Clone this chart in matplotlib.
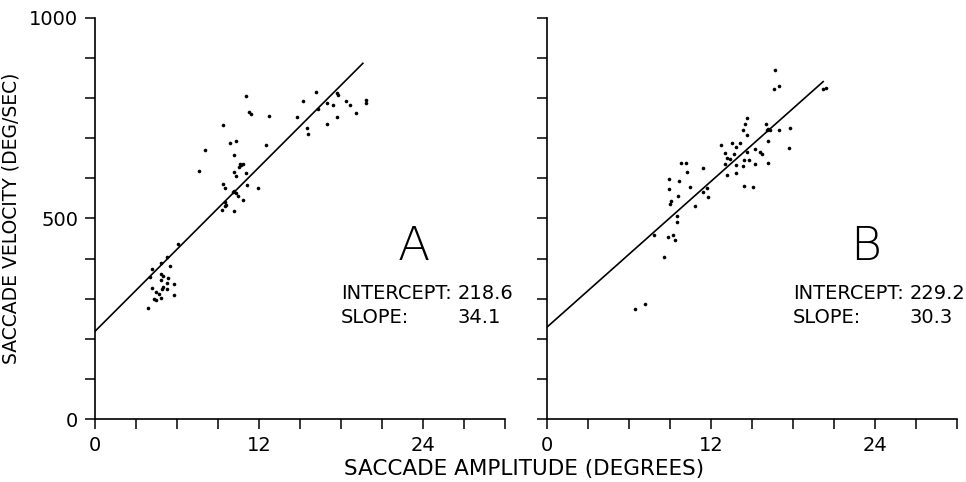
import matplotlib
matplotlib.use("Agg")
from matplotlib import pyplot as plt

plt.rcParams['font.family'] = ['DejaVu Sans']

# panel A data (amplitude in deg, velocity in deg/sec)
amp_a = [3.9, 4.2, 4.06, 4.8, 5.26, 6.08, 5.47, 4.8, 5.0, 5.35, 4.8, 5.28, 5.77, 4.18,
         4.94, 5.28, 4.5, 4.7, 4.3, 4.5, 4.8, 5.77, 4.96,
         11.07, 11.3, 11.4, 12.7, 9.37, 8.03, 7.6, 9.85, 10.34, 10.2, 10.6, 10.8, 10.55,
         10.65, 10.15, 11.07, 10.3, 12.5, 9.4, 9.5, 11.1, 11.9, 10.1, 10.2, 10.3, 10.5,
         10.8, 9.5, 9.5, 9.6, 9.3, 10.15,
         15.2, 16.2, 14.8, 15.5, 15.6, 16.3, 17.0, 17.4, 16.95, 17.7, 17.7, 17.8, 18.4,
         18.65, 19.1, 19.8, 19.8]
vel_a = [276, 375, 353, 388, 405, 436, 381, 362, 356, 351, 347, 338, 336, 326,
         324, 324, 316, 312, 300, 297, 302, 308, 330,
         805, 766, 760, 756, 732, 671, 619, 687, 692, 658, 637, 637, 628,
         633, 617, 614, 605, 683, 587, 575, 583, 575, 567, 569, 563, 556,
         545, 540, 531, 533, 520, 519,
         793, 815, 752, 725, 710, 772, 789, 783, 736, 812, 753, 808, 793,
         782, 762, 796, 787]

# panel B data
amp_b = [6.47, 7.2, 8.54, 7.8, 8.85, 9.2, 9.34, 9.5, 9.54, 10.8, 9.0, 9.05, 9.6, 8.9,
         8.9, 9.66, 10.44, 10.24, 9.83, 10.15, 11.4, 11.7, 11.8, 13.2, 13.85, 13.0,
         13.85, 14.3, 14.8, 15.2, 14.4, 13.2, 13.35, 13.0, 13.65, 12.75, 13.5, 13.85,
         14.1, 14.6, 14.4, 15.1, 15.55, 15.7, 15.2, 16.15, 16.15, 16.7, 16.96, 16.6,
         20.2, 20.4, 14.6, 14.45, 14.3, 14.6, 16.0, 16.1, 16.33, 16.2, 17.0, 17.8,
         17.7, 11.4]
vel_b = [274, 286, 403, 460, 453, 460, 446, 492, 507, 532, 536, 544, 556, 574,
         599, 593, 578, 616, 638, 638, 567, 575, 553, 608, 613, 636,
         633, 631, 646, 635, 646, 650, 648, 664, 661, 684, 689, 678,
         687, 667, 582, 578, 667, 661, 673, 639, 694, 870, 830, 824,
         824, 826, 750, 735, 720, 708, 735, 721, 720, 722, 721, 725,
         677, 626]

# fitted lines
intercepts = [218.6, 229.2]
slopes = [34.1, 30.3]
line_ends = [19.6, 20.2]
letters = ['A', 'B']

fig = plt.figure(figsize=(9.66, 4.82), dpi=100)
ax_a = fig.add_axes([0.0983, 0.1307, 0.4245, 0.832])
ax_b = fig.add_axes([0.5663, 0.1307, 0.4245, 0.832])

panels = [(ax_a, amp_a, vel_a), (ax_b, amp_b, vel_b)]

for i, (ax, xs, ys) in enumerate(panels):
    ax.plot(xs, ys, 'o', color='black', markersize=2.6, markeredgewidth=0)
    x_end = line_ends[i]
    ax.plot([0, x_end], [intercepts[i], intercepts[i] + slopes[i] * x_end],
            color='black', linewidth=1.2)

    ax.set_xlim(0, 30)
    ax.set_ylim(0, 1000)
    ax.spines['top'].set_visible(False)
    ax.spines['right'].set_visible(False)
    ax.spines['left'].set_linewidth(1.2)
    ax.spines['bottom'].set_linewidth(1.2)

    ax.set_xticks(range(0, 31, 3))
    ax.set_xticklabels(['0', '', '', '', '12', '', '', '', '24', '', ''])
    ax.set_yticks(range(0, 1001, 100))
    if i == 0:
        ax.set_yticklabels(['0', '', '', '', '', '500', '', '', '', '', '1000'])
    else:
        ax.set_yticklabels([])
    ax.tick_params(direction='out', length=7, width=1.1, labelsize=14, pad=5)

    ax.text(23.3, 430, letters[i], fontsize=34, fontweight='light', ha='center', va='center')
    ax.text(18.0, 312, 'INTERCEPT:', fontsize=14, ha='left', va='center')
    ax.text(26.5, 312, '%.1f' % intercepts[i], fontsize=14, ha='left', va='center')
    ax.text(18.0, 252, 'SLOPE:', fontsize=14, ha='left', va='center')
    ax.text(26.5, 252, '%.1f' % slopes[i], fontsize=14, ha='left', va='center')

ax_a.set_ylabel('SACCADE VELOCITY (DEG/SEC)', fontsize=13.5, labelpad=6)
fig.text(0.543, 0.027, 'SACCADE AMPLITUDE (DEGREES)', fontsize=15.5, ha='center', va='center')

fig.savefig('out.png', dpi=100)
